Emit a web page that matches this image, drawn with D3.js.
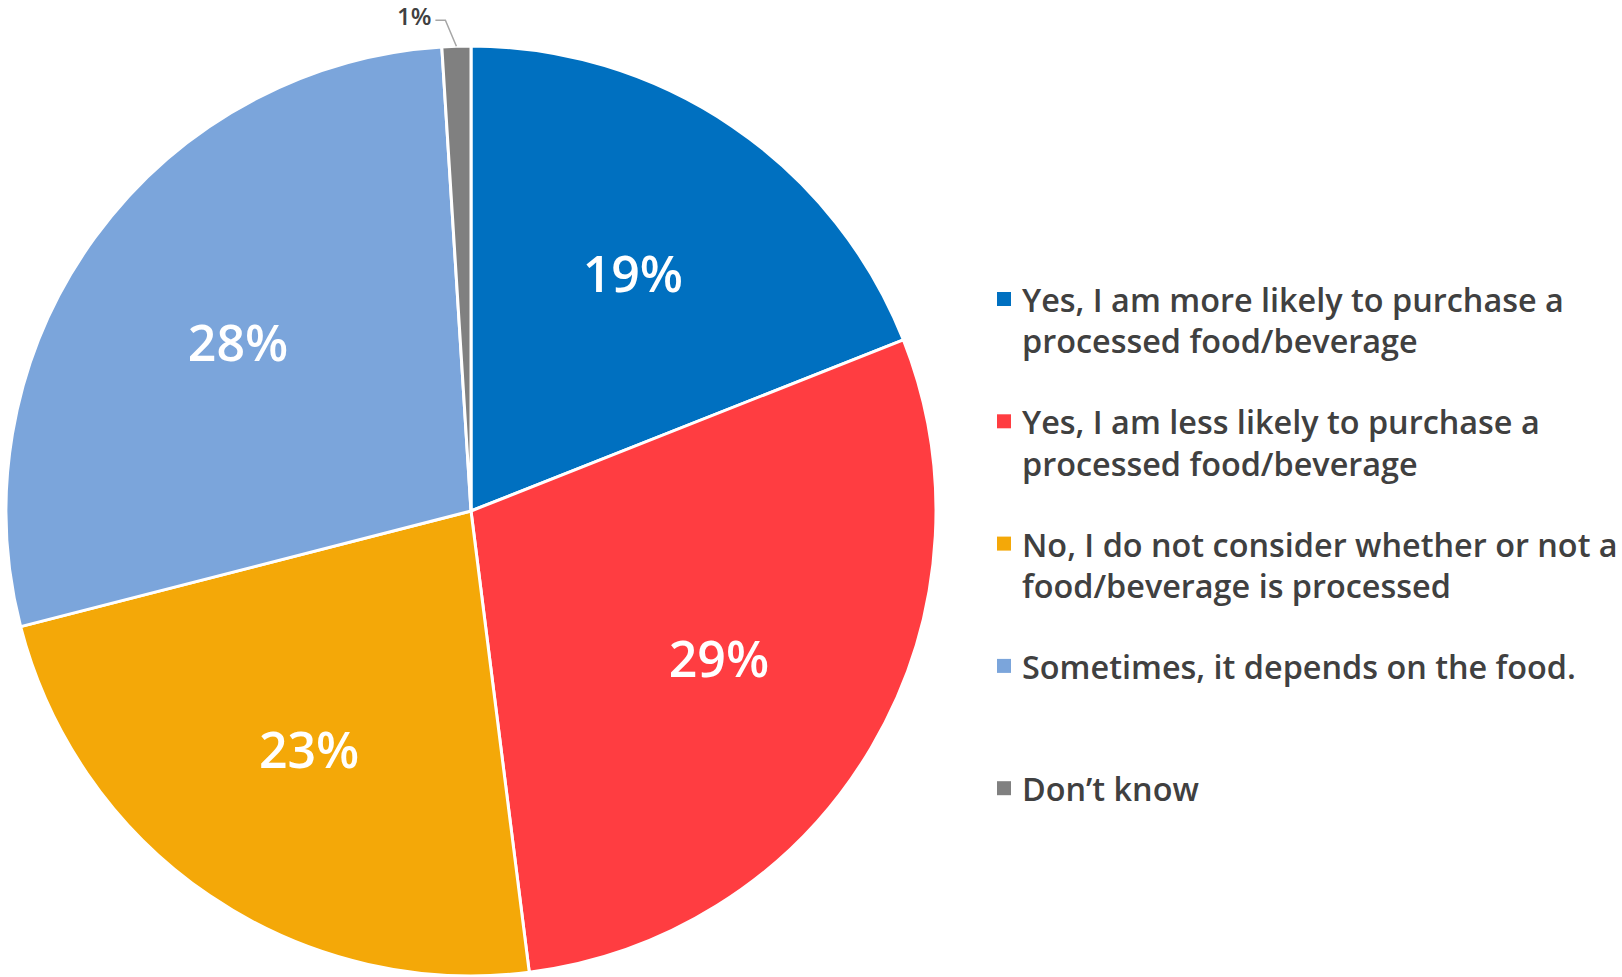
<!DOCTYPE html>
<html>
<head>
<meta charset="utf-8">
<script src="https://cdn.jsdelivr.net/npm/d3@7"></script>
<style>
  html, body { margin: 0; padding: 0; background: #ffffff; }
  svg { display: block; }
</style>
</head>
<body>
<svg id="chart" width="1622" height="977"></svg>
<script>
// Survey answers, in drawing order (clockwise from 12 o'clock)
const categories = [
  "Yes, I am more likely to purchase a processed food/beverage",
  "Yes, I am less likely to purchase a processed food/beverage",
  "No, I do not consider whether or not a food/beverage is processed",
  "Sometimes, it depends on the food.",
  "Don\u2019t know"
];
const legendLines = [
  ["Yes, I am more likely to purchase a", "processed food/beverage"],
  ["Yes, I am less likely to purchase a", "processed food/beverage"],
  ["No, I do not consider whether or not a", "food/beverage is processed"],
  ["Sometimes, it depends on the food."],
  ["Don\u2019t know"]
];
const values = [19, 29, 23, 28, 1];
const colors = ["#0070C0", "#FF3D41", "#F4A808", "#7BA5DB", "#808080"];

const FONT = "'Open Sans', 'Liberation Sans', sans-serif";
const TEXT = "#404040";

const svg = d3.select("#chart");
const cx = 471, cy = 511, R = 465;

const pie = d3.pie().sort(null).value(d => d.value).startAngle(0).endAngle(2 * Math.PI);
const data = pie(values.map((v, i) => ({ value: v, name: categories[i], color: colors[i] })));

const arc = d3.arc().innerRadius(0).outerRadius(R);
const labelArc = d3.arc().innerRadius(288).outerRadius(288);
const outerArc = d3.arc().innerRadius(R).outerRadius(R);

const g = svg.append("g").attr("transform", `translate(${cx},${cy})`);

g.selectAll("path.slice")
  .data(data)
  .join("path")
  .attr("class", "slice")
  .attr("d", arc)
  .attr("fill", d => d.data.color)
  .attr("stroke", "#ffffff")
  .attr("stroke-width", 3)
  .attr("stroke-linejoin", "round");

// Percent labels inside the larger slices
const big = data.filter(d => d.data.value >= 5);
g.selectAll("text.pct")
  .data(big)
  .join("text")
  .attr("class", "pct")
  .attr("transform", d => `translate(${labelArc.centroid(d)})`)
  .attr("text-anchor", "middle")
  .attr("dominant-baseline", "central")
  .attr("fill", "#ffffff")
  .attr("font-family", FONT)
  .attr("font-weight", 600)
  .attr("font-size", 50)
  .text(d => d.data.value + "%");

// Small slice: label outside with a leader line
const small = data.filter(d => d.data.value < 5);
small.forEach(d => {
  const p0 = outerArc.centroid(d);
  const elbow = [p0[0] - 11, p0[1] - 26];
  const end = [elbow[0] - 10, elbow[1]];
  g.append("polyline")
    .attr("points", [p0, elbow, end].map(p => p.join(",")).join(" "))
    .attr("fill", "none")
    .attr("stroke", "#A6A6A6")
    .attr("stroke-width", 1.5);
  g.append("text")
    .attr("x", end[0] - 4)
    .attr("y", end[1] - 5)
    .attr("text-anchor", "end")
    .attr("dominant-baseline", "central")
    .attr("fill", TEXT)
    .attr("font-family", FONT)
    .attr("font-weight", 600)
    .attr("font-size", 24)
    .text(d.data.value + "%");
});

// Legend
const legendX = 997, legendTop = 299, itemStep = 122.3, lineStep = 41.4;
const legend = svg.append("g");
legendLines.forEach((lines, i) => {
  const y0 = legendTop + i * itemStep;
  legend.append("rect")
    .attr("x", legendX)
    .attr("y", y0 - 7)
    .attr("width", 14)
    .attr("height", 14)
    .attr("fill", colors[i]);
  const t = legend.append("text")
    .attr("fill", TEXT)
    .attr("font-family", FONT)
    .attr("font-weight", 600)
    .attr("font-size", 32.4);
  lines.forEach((ln, j) => {
    t.append("tspan")
      .attr("x", legendX + 25)
      .attr("y", y0 + j * lineStep)
      .attr("dominant-baseline", "central")
      .text(ln);
  });
});
</script>
</body>
</html>
